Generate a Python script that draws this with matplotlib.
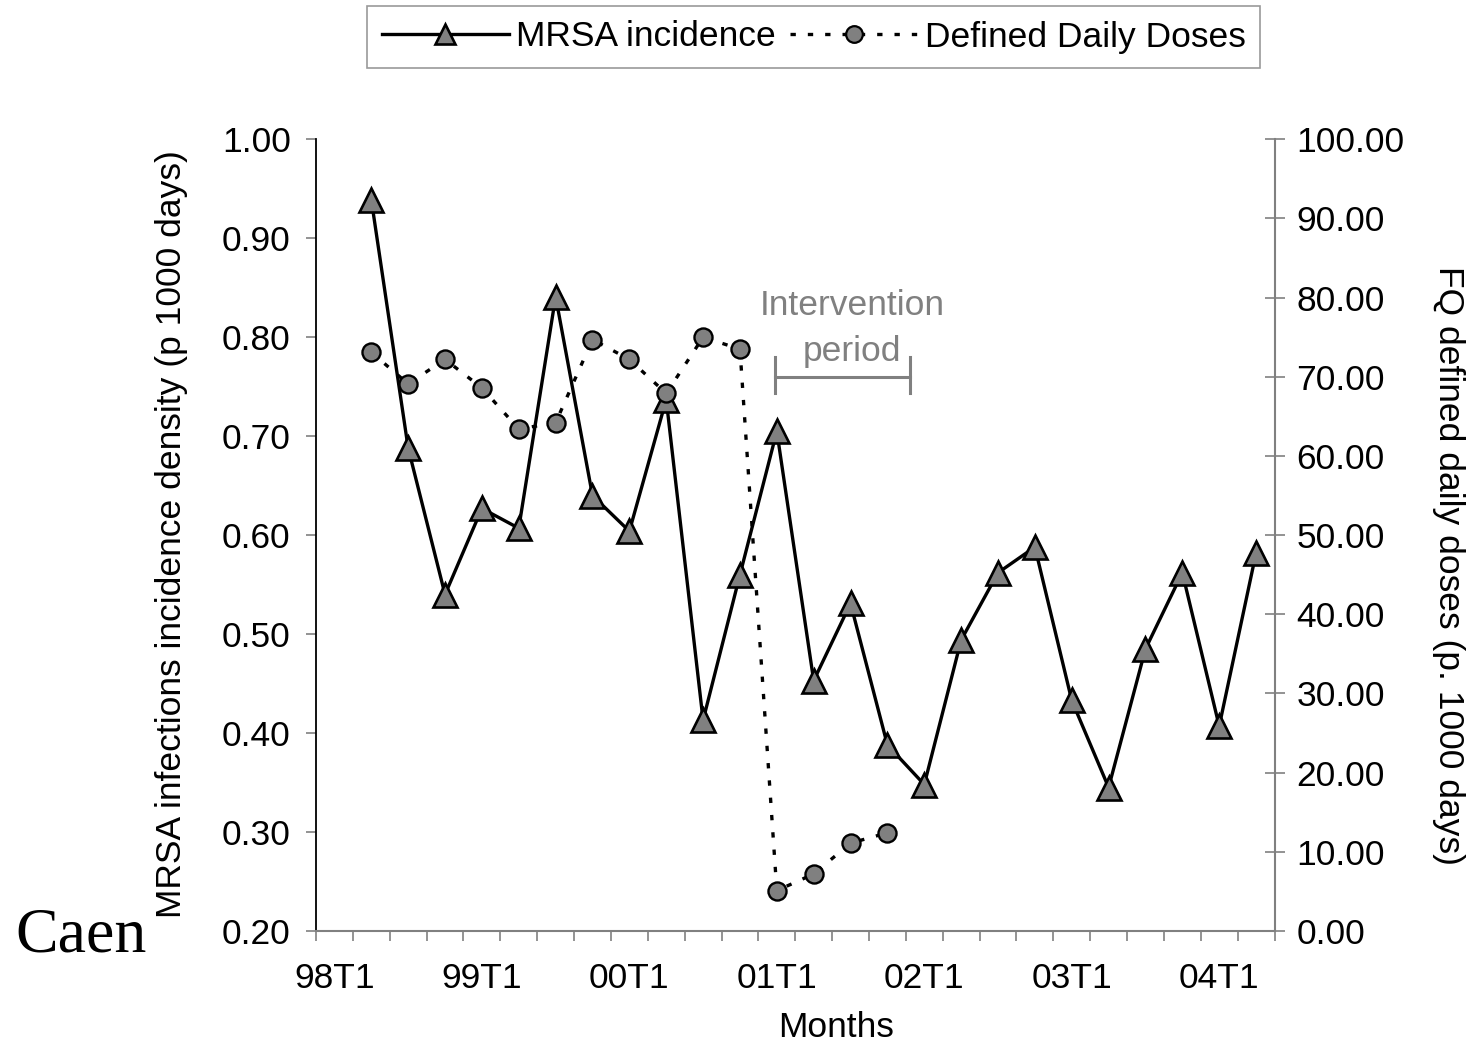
import numpy as np
import matplotlib
matplotlib.use("Agg")
import matplotlib.pyplot as plt
from matplotlib.lines import Line2D

plt.rcParams['font.family'] = ['Liberation Sans', 'DejaVu Sans']

# quarters 98T1 .. 04T2, only every 4th label is shown
quarters = ["%02dT%d" % (y % 100, q) for y in range(1998, 2005) for q in range(1, 5)][:26]
tick_every = 4

# MRSA incidence (left axis), first quarter empty
mrsa = [np.nan, 0.939, 0.688, 0.540, 0.627, 0.607, 0.841, 0.640, 0.604, 0.737,
        0.413, 0.560, 0.705, 0.453, 0.531, 0.388, 0.348, 0.494, 0.562, 0.588,
        0.433, 0.345, 0.485, 0.562, 0.407, 0.582]
# FQ defined daily doses (right axis)
ddd = [np.nan, 73.1, 69.1, 72.2, 68.6, 63.4, 64.2, 74.7, 72.2, 67.9, 75.0,
       73.5, 5.1, 7.2, 11.1, 12.4] + [np.nan] * 10

left_ticks = [0.20, 0.30, 0.40, 0.50, 0.60, 0.70, 0.80, 0.90, 1.00]
right_ticks = [0, 10, 20, 30, 40, 50, 60, 70, 80, 90, 100]

gray = "#808080"
fs = 25.5

fig = plt.figure(figsize=(14.68, 10.42), dpi=100)
ax = fig.add_axes([316 / 1468, 111 / 1042, 958.5 / 1468, 791.7 / 1042])
ax2 = ax.twinx()

x = np.arange(len(quarters)) + 0.5

ax.plot(x, mrsa, color="black", lw=2.4, marker="^", ms=17, mfc=gray,
        mec="black", mew=1.9, zorder=3)
ax2.plot(x, ddd, color="black", lw=2.4, ls=(0, (1.6, 3.6)), marker="o", ms=13,
         mfc=gray, mec="black", mew=1.7, zorder=3)

ax.set_xlim(0, len(quarters))
ax.set_ylim(0.2, 1.0)
ax2.set_ylim(0, 100)

ax.set_yticks(left_ticks)
ax.set_yticklabels(["%.2f" % v for v in left_ticks], fontsize=fs)
ax2.set_yticks(right_ticks)
ax2.set_yticklabels(["%.2f" % v for v in right_ticks], fontsize=fs)

ax.set_xticks(x[::tick_every])
ax.set_xticklabels(quarters[::tick_every], fontsize=fs)
ax.set_xticks(np.arange(len(quarters) + 1), minor=True)
ax.tick_params(axis="x", which="major", length=0, pad=22)
ax.tick_params(axis="x", which="minor", length=7.2, width=1.2, color=gray, direction="out")
ax.tick_params(axis="y", length=7.2, width=1.2, color=gray, direction="out", pad=11)
ax2.tick_params(axis="y", length=13.7, width=1.2, color=gray, direction="inout", pad=9)

ax.spines["top"].set_visible(False)
ax2.spines["top"].set_visible(False)
ax.spines["left"].set_color("black")
ax.spines["left"].set_linewidth(1.3)
ax.spines["bottom"].set_color(gray)
ax.spines["bottom"].set_linewidth(1.5)
ax2.spines["right"].set_color(gray)
ax2.spines["right"].set_linewidth(1.5)
ax2.spines["left"].set_visible(False)
ax2.spines["bottom"].set_visible(False)
ax.spines["right"].set_visible(False)

# intervention period bracket
xl, xr = 12.45, 16.1
ax.plot([xl, xr], [0.760, 0.760], color=gray, lw=2.2, clip_on=False)
ax.plot([xl, xl], [0.744, 0.780], color=gray, lw=2.2, clip_on=False)
ax.plot([xr, xr], [0.744, 0.780], color=gray, lw=2.2, clip_on=False)
ax.text(14.54, 0.8225, "Intervention", color=gray, fontsize=fs,
        ha="center", va="baseline")
ax.text(14.54, 0.7755, "period", color=gray, fontsize=fs,
        ha="center", va="baseline")

fig.text(172 / 1468, 1 - 534 / 1042, "MRSA infections incidence density (p 1000 days)",
         rotation=90, ha="center", va="center", fontsize=fs)
fig.text(1449 / 1468, 1 - 566 / 1042, "FQ defined daily doses (p. 1000 days)",
         rotation=-90, ha="center", va="center", fontsize=fs)
fig.text(836 / 1468, 1 - 1036.7 / 1042, "Months", ha="center", va="baseline", fontsize=fs)
fig.text(15 / 1468, 1 - 952 / 1042, "Caen", ha="left", va="baseline", fontsize=46,
         family="Liberation Serif")

handles = [
    Line2D([], [], color="black", lw=2.4, marker="^", ms=15, mfc=gray, mec="black", mew=1.9),
    Line2D([], [], color="black", lw=2.4, ls=(0, (1.6, 3.6)), marker="o", ms=12,
           mfc=gray, mec="black", mew=1.6),
]
leg = fig.legend(handles, ["MRSA incidence", "Defined Daily Doses"], ncol=2,
                 loc="center", bbox_to_anchor=(813.5 / 1468, 1 - 37 / 1042),
                 fontsize=fs, frameon=True, fancybox=False, edgecolor=gray,
                 handlelength=3.6, handletextpad=0.2, columnspacing=0.4,
                 numpoints=1, borderpad=0.4, borderaxespad=0)
leg.get_frame().set_linewidth(1.2)

fig.savefig("out.png", dpi=100)
